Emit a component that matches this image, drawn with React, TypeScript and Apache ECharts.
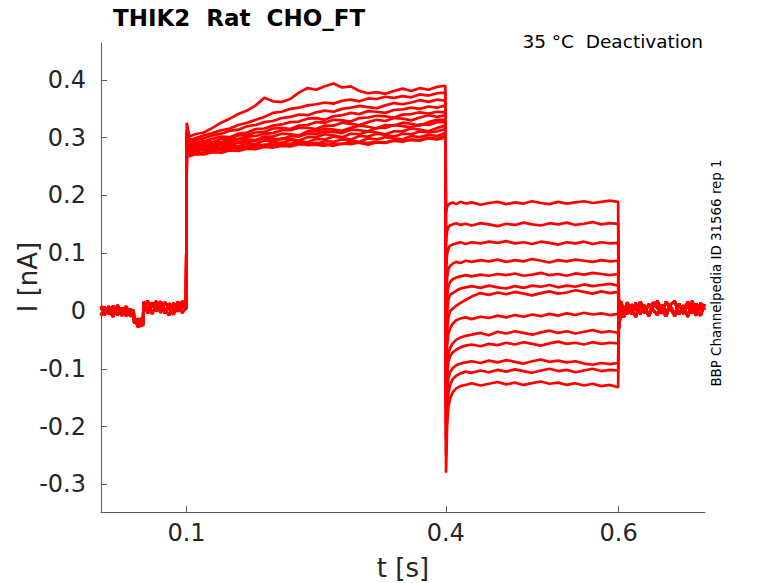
import React, { useEffect, useRef } from "react";
import * as echarts from "echarts";

// ---- time bases (s) ----
const tPre = [0.001, 0.005, 0.010, 0.015, 0.020, 0.025, 0.030, 0.035, 0.0385, 0.0395, 0.044, 0.048, 0.0495, 0.0505, 0.055, 0.060, 0.065, 0.070, 0.075, 0.080, 0.085, 0.090, 0.095, 0.0995];
const tAct = [0.1003, 0.103, 0.11, 0.12, 0.13, 0.14, 0.15, 0.16, 0.17, 0.18, 0.19, 0.20, 0.21, 0.22, 0.23, 0.24, 0.25, 0.26, 0.27, 0.28, 0.29, 0.30, 0.31, 0.32, 0.33, 0.34, 0.35, 0.36, 0.37, 0.38, 0.39, 0.3995];
const tDeact = [0.4003, 0.4015, 0.403, 0.405, 0.408, 0.412, 0.417, 0.423, 0.43, 0.44, 0.45, 0.46, 0.47, 0.48, 0.49, 0.50, 0.51, 0.52, 0.53, 0.54, 0.55, 0.56, 0.57, 0.58, 0.59, 0.5995];
const tPost = [0.6003, 0.601, 0.603, 0.606, 0.61, 0.615, 0.62, 0.625, 0.63, 0.635, 0.64, 0.645, 0.65, 0.655, 0.66, 0.665, 0.67, 0.675, 0.68, 0.685, 0.69, 0.695, 0.6995];

// ---- holding current before the activation step (nA) ----
const preA = [0.006, -0.007, 0.008, -0.004, 0.007, -0.008, 0.004, -0.009, -0.006, -0.016, -0.024, -0.017, -0.026, 0.012, 0.004, 0.014, 0.000, 0.012, -0.004, 0.013, 0.002, 0.011, -0.003, 0.006];
const preB = [-0.008, 0.007, -0.005, 0.009, -0.007, 0.005, -0.009, 0.004, -0.010, -0.021, -0.013, -0.027, -0.015, 0.016, -0.004, 0.009, 0.017, -0.003, 0.015, 0.004, -0.006, 0.016, 0.006, 0.011];
const preC = [0.009, -0.003, 0.002, -0.010, 0.010, -0.002, 0.008, -0.005, 0.002, -0.011, -0.028, -0.012, -0.021, 0.004, 0.018, -0.005, 0.010, 0.016, 0.002, -0.007, 0.014, -0.001, 0.017, 0.003];

// ---- activation step (nA), one row per sweep ----
const act1 = [0.326, 0.302, 0.306, 0.309, 0.317, 0.326, 0.333, 0.341, 0.347, 0.356, 0.369, 0.363, 0.362, 0.367, 0.378, 0.386, 0.383, 0.389, 0.394, 0.387, 0.389, 0.381, 0.377, 0.379, 0.376, 0.381, 0.385, 0.381, 0.386, 0.383, 0.388, 0.390];
const act2 = [0.314, 0.296, 0.299, 0.304, 0.308, 0.313, 0.316, 0.322, 0.326, 0.331, 0.336, 0.343, 0.345, 0.350, 0.352, 0.356, 0.358, 0.361, 0.359, 0.364, 0.366, 0.363, 0.368, 0.367, 0.371, 0.369, 0.372, 0.370, 0.375, 0.373, 0.377, 0.378];
const act3 = [0.308, 0.291, 0.296, 0.299, 0.304, 0.307, 0.312, 0.314, 0.320, 0.322, 0.327, 0.329, 0.334, 0.336, 0.340, 0.339, 0.344, 0.347, 0.345, 0.350, 0.352, 0.355, 0.353, 0.351, 0.356, 0.360, 0.358, 0.361, 0.365, 0.362, 0.366, 0.364];
const act4 = [0.301, 0.288, 0.292, 0.294, 0.298, 0.302, 0.301, 0.307, 0.309, 0.315, 0.316, 0.321, 0.323, 0.327, 0.328, 0.333, 0.334, 0.331, 0.337, 0.339, 0.343, 0.341, 0.346, 0.345, 0.343, 0.348, 0.349, 0.352, 0.350, 0.354, 0.352, 0.356];
const act5 = [0.299, 0.285, 0.289, 0.293, 0.292, 0.298, 0.299, 0.304, 0.305, 0.309, 0.310, 0.316, 0.317, 0.315, 0.321, 0.322, 0.327, 0.326, 0.331, 0.330, 0.328, 0.334, 0.335, 0.338, 0.337, 0.335, 0.340, 0.341, 0.344, 0.342, 0.345, 0.344];
const act6 = [0.297, 0.283, 0.286, 0.287, 0.292, 0.292, 0.297, 0.298, 0.302, 0.303, 0.307, 0.308, 0.313, 0.313, 0.317, 0.317, 0.315, 0.321, 0.321, 0.326, 0.324, 0.322, 0.327, 0.331, 0.329, 0.334, 0.333, 0.330, 0.335, 0.339, 0.336, 0.339];
const act7 = [0.295, 0.281, 0.285, 0.289, 0.287, 0.292, 0.293, 0.297, 0.297, 0.296, 0.302, 0.302, 0.307, 0.306, 0.304, 0.311, 0.311, 0.316, 0.314, 0.312, 0.317, 0.321, 0.319, 0.316, 0.322, 0.321, 0.326, 0.324, 0.321, 0.327, 0.331, 0.331];
const act8 = [0.293, 0.279, 0.282, 0.282, 0.287, 0.287, 0.291, 0.291, 0.295, 0.295, 0.299, 0.298, 0.297, 0.303, 0.302, 0.307, 0.306, 0.311, 0.310, 0.308, 0.314, 0.313, 0.311, 0.317, 0.317, 0.322, 0.320, 0.318, 0.323, 0.322, 0.327, 0.327];
const act9 = [0.291, 0.277, 0.281, 0.285, 0.283, 0.288, 0.287, 0.292, 0.291, 0.289, 0.295, 0.294, 0.299, 0.298, 0.295, 0.301, 0.301, 0.306, 0.304, 0.301, 0.307, 0.306, 0.311, 0.309, 0.306, 0.311, 0.311, 0.316, 0.314, 0.311, 0.317, 0.321];
const act10 = [0.289, 0.275, 0.278, 0.278, 0.283, 0.282, 0.286, 0.285, 0.290, 0.288, 0.286, 0.292, 0.291, 0.296, 0.294, 0.292, 0.298, 0.297, 0.302, 0.300, 0.297, 0.303, 0.302, 0.307, 0.305, 0.302, 0.307, 0.306, 0.311, 0.309, 0.311, 0.315];
const act11 = [0.287, 0.273, 0.277, 0.280, 0.278, 0.283, 0.281, 0.285, 0.283, 0.288, 0.287, 0.285, 0.290, 0.289, 0.293, 0.291, 0.289, 0.294, 0.293, 0.297, 0.295, 0.293, 0.299, 0.297, 0.301, 0.299, 0.297, 0.303, 0.301, 0.305, 0.303, 0.308];
const act12 = [0.285, 0.271, 0.274, 0.274, 0.279, 0.278, 0.282, 0.281, 0.285, 0.284, 0.288, 0.287, 0.291, 0.289, 0.290, 0.287, 0.288, 0.286, 0.290, 0.289, 0.293, 0.291, 0.288, 0.292, 0.291, 0.295, 0.293, 0.297, 0.296, 0.300, 0.298, 0.303];
const act13 = [0.283, 0.268, 0.271, 0.271, 0.275, 0.274, 0.278, 0.277, 0.281, 0.280, 0.284, 0.283, 0.286, 0.285, 0.289, 0.288, 0.291, 0.289, 0.286, 0.290, 0.289, 0.292, 0.291, 0.293, 0.292, 0.295, 0.294, 0.296, 0.295, 0.299, 0.297, 0.300];

// ---- deactivation steps (nA), one row per sweep ----
const deact1 = [0.170, 0.180, 0.184, 0.186, 0.188, 0.185, 0.189, 0.186, 0.188, 0.184, 0.187, 0.189, 0.185, 0.188, 0.186, 0.190, 0.187, 0.185, 0.189, 0.186, 0.188, 0.190, 0.187, 0.189, 0.191, 0.189];
const deact2 = [0.120, 0.138, 0.145, 0.148, 0.150, 0.152, 0.149, 0.151, 0.148, 0.152, 0.150, 0.147, 0.151, 0.149, 0.153, 0.150, 0.148, 0.152, 0.150, 0.153, 0.149, 0.151, 0.154, 0.150, 0.152, 0.151];
const deact3 = [0.070, 0.098, 0.108, 0.113, 0.115, 0.117, 0.119, 0.116, 0.119, 0.117, 0.120, 0.118, 0.121, 0.117, 0.119, 0.116, 0.120, 0.118, 0.115, 0.119, 0.117, 0.120, 0.116, 0.119, 0.117, 0.118];
const deact4 = [0.020, 0.058, 0.072, 0.078, 0.082, 0.085, 0.083, 0.087, 0.085, 0.088, 0.086, 0.089, 0.085, 0.088, 0.086, 0.090, 0.087, 0.084, 0.088, 0.086, 0.089, 0.087, 0.085, 0.088, 0.086, 0.087];
const deact5 = [-0.025, 0.025, 0.042, 0.050, 0.055, 0.058, 0.060, 0.062, 0.060, 0.063, 0.061, 0.064, 0.062, 0.065, 0.061, 0.063, 0.066, 0.062, 0.064, 0.061, 0.065, 0.063, 0.066, 0.064, 0.062, 0.064];
const deact6 = [-0.060, -0.005, 0.020, 0.028, 0.031, 0.035, 0.039, 0.041, 0.043, 0.040, 0.044, 0.041, 0.039, 0.043, 0.040, 0.044, 0.042, 0.045, 0.041, 0.044, 0.042, 0.046, 0.043, 0.045, 0.047, 0.044];
const deact7 = [-0.095, -0.035, -0.012, 0.000, 0.004, 0.009, 0.014, 0.019, 0.025, 0.031, 0.028, 0.032, 0.029, 0.033, 0.030, 0.027, 0.031, 0.034, 0.030, 0.032, 0.036, 0.033, 0.030, 0.034, 0.031, 0.033];
const deact8 = [-0.130, -0.060, -0.040, -0.030, -0.022, -0.016, -0.013, -0.011, -0.014, -0.010, -0.012, -0.008, -0.011, -0.007, -0.010, -0.006, -0.009, -0.005, -0.008, -0.004, -0.007, -0.003, -0.006, -0.004, -0.007, -0.005];
const deact9 = [-0.165, -0.095, -0.074, -0.064, -0.056, -0.050, -0.046, -0.043, -0.041, -0.038, -0.042, -0.036, -0.039, -0.035, -0.038, -0.041, -0.037, -0.034, -0.038, -0.035, -0.039, -0.036, -0.033, -0.037, -0.035, -0.038];
const deact10 = [-0.195, -0.115, -0.088, -0.078, -0.072, -0.067, -0.063, -0.060, -0.058, -0.061, -0.057, -0.059, -0.055, -0.058, -0.054, -0.057, -0.060, -0.056, -0.053, -0.057, -0.055, -0.058, -0.054, -0.057, -0.055, -0.056];
const deact11 = [-0.220, -0.140, -0.116, -0.106, -0.099, -0.094, -0.091, -0.089, -0.087, -0.090, -0.086, -0.089, -0.085, -0.088, -0.091, -0.087, -0.084, -0.088, -0.086, -0.089, -0.087, -0.091, -0.093, -0.090, -0.092, -0.090];
const deact12 = [-0.250, -0.170, -0.142, -0.128, -0.118, -0.112, -0.108, -0.105, -0.107, -0.103, -0.106, -0.102, -0.105, -0.101, -0.104, -0.107, -0.103, -0.100, -0.104, -0.102, -0.106, -0.103, -0.100, -0.104, -0.102, -0.103];
const deact13 = [-0.280, -0.200, -0.166, -0.152, -0.141, -0.134, -0.130, -0.128, -0.125, -0.129, -0.126, -0.123, -0.127, -0.124, -0.128, -0.125, -0.122, -0.126, -0.124, -0.128, -0.125, -0.129, -0.126, -0.130, -0.128, -0.132];

// ---- return to holding (nA) ----
const postA = [-0.030, -0.018, -0.008, 0.006, -0.005, 0.011, 0.001, 0.009, -0.004, 0.012, 0.002, -0.007, 0.010, -0.001, 0.008, -0.005, 0.011, 0.001, 0.009, -0.004, 0.012, 0.003, 0.007];
const postB = [0.020, 0.015, 0.005, -0.011, 0.009, -0.006, 0.014, -0.005, 0.010, -0.008, 0.015, 0.005, -0.004, 0.016, 0.004, -0.009, 0.013, -0.005, 0.016, 0.005, -0.008, 0.014, 0.002];
const postC = [-0.012, 0.008, 0.017, -0.003, 0.015, 0.002, -0.010, 0.016, 0.004, -0.009, 0.008, 0.017, 0.001, -0.009, 0.011, 0.017, -0.006, 0.010, -0.010, 0.017, 0.002, -0.008, 0.012];

// ---- ticks ----
const xTicks = [0.1, 0.4, 0.6];
const yTicks = [-0.3, -0.2, -0.1, 0, 0.1, 0.2, 0.3, 0.4];

const actRows = [act1, act2, act3, act4, act5, act6, act7, act8, act9, act10, act11, act12, act13];
const deactRows = [deact1, deact2, deact3, deact4, deact5, deact6, deact7, deact8, deact9, deact10, deact11, deact12, deact13];
const preRows = [preA, preB, preC];
const postRows = [postA, postB, postC];

function sweep(k: number): number[][] {
  const pts: number[][] = [];
  const pre = preRows[k % 3];
  const post = postRows[k % 3];
  tPre.forEach((t, i) => pts.push([t, pre[i]]));
  tAct.forEach((t, i) => pts.push([t, actRows[k][i]]));
  tDeact.forEach((t, i) => pts.push([t, deactRows[k][i]]));
  tPost.forEach((t, i) => pts.push([t, post[i]]));
  return pts;
}

const FONT = "DejaVu Sans";

export default function App() {
  const ref = useRef<HTMLDivElement>(null);
  useEffect(() => {
    document.body.style.margin = "0";
    if (!ref.current) return;
    const chart = echarts.init(ref.current, null, { renderer: "svg" });
    const series = actRows.map((_, k) => ({
      type: "line",
      data: sweep(k),
      showSymbol: false,
      symbol: "none",
      silent: true,
      z: 2,
      lineStyle: { color: "#ff0000", width: 2.7 },
      itemStyle: { color: "#ff0000" },
    }));
    chart.setOption({
      animation: false,
      backgroundColor: "#ffffff",
      grid: { left: 101, top: 43, right: 73, bottom: 71, containLabel: false },
      xAxis: {
        type: "value",
        min: 0.001,
        max: 0.7,
        z: 5,
        axisLine: { show: true, onZero: false, lineStyle: { color: "#5a5a5a", width: 1 } },
        axisTick: { show: true, inside: true, length: 6, customValues: xTicks, lineStyle: { color: "#5a5a5a" } },
        axisLabel: {
          customValues: xTicks,
          formatter: (v: number) => v.toFixed(1),
          fontSize: 24,
          fontFamily: FONT,
          color: "#262626",
          margin: 9,
        },
        splitLine: { show: false },
      },
      yAxis: {
        type: "value",
        min: -0.348,
        max: 0.464,
        z: 5,
        axisLine: { show: true, onZero: false, lineStyle: { color: "#5a5a5a", width: 1 } },
        axisTick: { show: true, inside: true, length: 6, customValues: yTicks, lineStyle: { color: "#5a5a5a" } },
        axisLabel: {
          customValues: yTicks,
          formatter: (v: number) => (Math.abs(v) < 1e-9 ? "0" : v.toFixed(1)),
          fontSize: 24,
          fontFamily: FONT,
          color: "#262626",
          margin: 15,
        },
        splitLine: { show: false },
      },
      graphic: [
        {
          type: "text",
          x: 113,
          y: 18,
          style: {
            text: "THIK2  Rat  CHO_FT",
            fontSize: 23,
            fontWeight: "bold",
            fontFamily: FONT,
            fill: "#000000",
            align: "left",
            verticalAlign: "middle",
          },
        },
        {
          type: "text",
          x: 703,
          y: 41,
          style: {
            text: "35 °C  Deactivation",
            fontSize: 18.5,
            fontFamily: FONT,
            fill: "#000000",
            align: "right",
            verticalAlign: "middle",
          },
        },
        {
          type: "text",
          x: 403,
          y: 568,
          style: {
            text: "t [s]",
            fontSize: 26,
            fontFamily: FONT,
            fill: "#262626",
            align: "center",
            verticalAlign: "middle",
          },
        },
        {
          type: "text",
          x: 28,
          y: 277,
          rotation: Math.PI / 2,
          style: {
            text: "I [nA]",
            fontSize: 26,
            fontFamily: FONT,
            fill: "#262626",
            align: "center",
            verticalAlign: "middle",
          },
        },
        {
          type: "text",
          x: 716,
          y: 273,
          rotation: Math.PI / 2,
          style: {
            text: "BBP Channelpedia ID 31566 rep 1",
            fontSize: 13.4,
            fontFamily: FONT,
            fill: "#000000",
            align: "center",
            verticalAlign: "middle",
          },
        },
      ],
      series,
    });
    return () => chart.dispose();
  }, []);
  return <div ref={ref} style={{ width: "778px", height: "583px" }} />;
}
